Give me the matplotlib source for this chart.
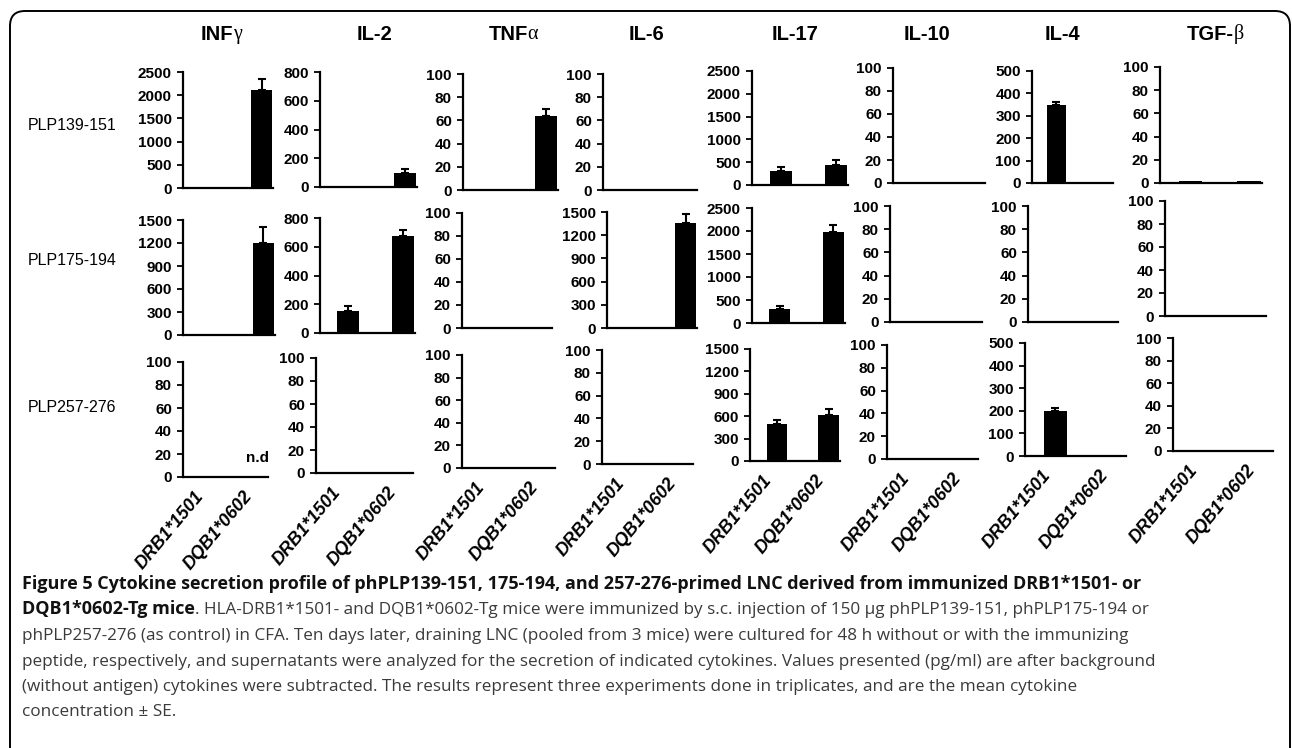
import matplotlib
matplotlib.use('Agg')
import matplotlib.pyplot as plt
import matplotlib.transforms as mtransforms
import numpy as np
from matplotlib.patches import FancyBboxPatch
from matplotlib.transforms import IdentityTransform

# chart content
cytokines = ['INFγ', 'IL-2', 'TNFα', 'IL-6', 'IL-17', 'IL-10', 'IL-4', 'TGF-β']
peptides = ['PLP139-151', 'PLP175-194', 'PLP257-276']
strains = ['DRB1*1501', 'DQB1*0602']

# mean (pg/ml) per cytokine, [DRB1*1501, DQB1*0602]
means_139 = [[0, 2120], [0, 97], [1.2, 64], [0, 0], [300, 440], [1.2, 1.2], [347, 3], [1.3, 1.3]]
err_139 = [[0, 220], [0, 30], [0, 6], [0, 0], [100, 110], [0, 0], [14, 0], [0, 0]]
means_175 = [[0, 1200], [155, 677], [1, 1], [0, 1360], [310, 1970], [0.5, 0.5], [1.2, 1.2], [1.2, 1.2]]
err_175 = [[0, 210], [30, 37], [0, 0], [0, 110], [50, 170], [0, 0], [0, 0], [0, 0]]
means_257 = [[0, 0], [1.2, 1.2], [1.2, 1.2], [1.2, 1.2], [500, 610], [0.5, 0.5], [200, 3], [1.2, 1.2]]
err_257 = [[0, 0], [0, 0], [0, 0], [0, 0], [50, 80], [0, 0], [14, 0], [0, 0]]

# y axis range / tick step of every panel
ymax_139 = [2500, 800, 100, 100, 2500, 100, 500, 100]
ystep_139 = [500, 200, 20, 20, 500, 20, 100, 20]
ymax_175 = [1500, 800, 100, 1500, 2500, 100, 100, 100]
ystep_175 = [300, 200, 20, 300, 500, 20, 20, 20]
ymax_257 = [100, 100, 100, 100, 1500, 100, 500, 100]
ystep_257 = [20, 20, 20, 20, 300, 20, 100, 20]

# (row, col, strain) not detected
not_detected = [(2, 0, 1)]

caption_bold = ('Figure 5 Cytokine secretion profile of phPLP139-151, 175-194, and 257-276-primed LNC '
                'derived from immunized DRB1*1501- or')
caption_bold2 = 'DQB1*0602-Tg mice'
caption_rest = [
    '. HLA-DRB1*1501- and DQB1*0602-Tg mice were immunized by s.c. injection of 150 µg phPLP139-151, phPLP175-194 or',
    'phPLP257-276 (as control) in CFA. Ten days later, draining LNC (pooled from 3 mice) were cultured for 48 h without or with the immunizing',
    'peptide, respectively, and supernatants were analyzed for the secretion of indicated cytokines. Values presented (pg/ml) are after background',
    '(without antigen) cytokines were subtracted. The results represent three experiments done in triplicates, and are the mean cytokine',
    'concentration ± SE.',
]

means = [means_139, means_175, means_257]
errs = [err_139, err_175, err_257]
ymaxs = [ymax_139, ymax_175, ymax_257]
ysteps = [ystep_139, ystep_175, ystep_257]

# panel boxes in pixels: left, top, right, bottom
boxes = [
    [(183, 72, 273, 188), (320, 72, 417, 187), (463, 74, 558, 190), (603, 74, 697, 190),
     (752, 71, 848, 185), (893, 68, 985, 183), (1032, 71, 1113, 183), (1160, 67, 1262, 183)],
    [(183, 220, 275, 335), (320, 218, 415, 333), (462, 213, 552, 328), (607, 212, 697, 328),
     (752, 208, 845, 323), (890, 206, 982, 322), (1028, 206, 1118, 322), (1165, 201, 1266, 316)],
    [(183, 362, 268, 477), (316, 358, 413, 473), (462, 355, 555, 468), (602, 350, 693, 464),
     (750, 349, 840, 461), (887, 345, 978, 459), (1025, 343, 1126, 456), (1173, 338, 1273, 451)],
]
title_x = [222, 375, 513, 647, 795, 927, 1062, 1215]
row_label_y = [125, 260, 408]

W, H = 1292, 748
fig = plt.figure(figsize=(W / 100, H / 100), dpi=100)

tick_font = dict(family='Liberation Sans', weight='bold', size=11)
shift_left = mtransforms.ScaledTranslation(-14 / 100, 0, fig.dpi_scale_trans)

for r in range(3):
    for c in range(8):
        l, t, rr, b = boxes[r][c]
        ax = fig.add_axes([l / W, 1 - b / H, (rr - l) / W, (b - t) / H])
        x = np.arange(2)
        m = np.array(means[r][c], dtype=float)
        e = np.array(errs[r][c], dtype=float)
        ax.bar(x, m, width=0.4, color='black', zorder=2)
        for xi, mi, ei in zip(x, m, e):
            if ei > 0:
                ax.errorbar(xi, mi, yerr=[[0], [ei]], color='black', lw=1.5,
                            capsize=3, capthick=1.5, zorder=3)
        ax.set_xlim(-0.52, 1.22)
        ax.set_ylim(0, ymaxs[r][c])
        ax.set_yticks(np.arange(0, ymaxs[r][c] + 1, ysteps[r][c]))
        for lab in ax.get_yticklabels():
            lab.set_fontproperties(tick_font)
        for s in ['top', 'right']:
            ax.spines[s].set_visible(False)
        for s in ['left', 'bottom']:
            ax.spines[s].set_linewidth(1.6)
        ax.tick_params(axis='y', length=4, width=1.3, pad=4)
        if r == 2:
            ax.set_xticks(x)
            ax.set_xticklabels(strains, rotation=50, ha='right', va='top',
                               rotation_mode='anchor', family='Liberation Sans',
                               weight='bold', style='italic', size=13)
            ax.tick_params(axis='x', length=0, pad=8)
            for lab in ax.get_xticklabels():
                lab.set_transform(lab.get_transform() + shift_left)
        else:
            ax.set_xticks([])
        ax.patch.set_visible(False)
        for (nr, nc, ns) in not_detected:
            if nr == r and nc == c:
                ax.text(ns, ymaxs[r][c] * 0.1, 'n.d', ha='center', va='bottom',
                        family='Liberation Sans', weight='bold', size=11)

for c, name in enumerate(cytokines):
    if ord(name[-1]) > 0x370:
        base = fig.text((title_x[c] - 5) / W, 1 - 34 / H, name[:-1], ha='center', va='center',
                        family='Liberation Sans', weight='bold', size=14.5)
        fig.add_artist(plt.Annotation(name[-1], xy=(1, 0), xycoords=base,
                                      xytext=(0, 3), textcoords='offset points',
                                      ha='left', va='baseline',
                                      family='Liberation Serif', size=14.5))
    else:
        fig.text(title_x[c] / W, 1 - 34 / H, name, ha='center', va='center',
                 family='Liberation Sans', weight='bold', size=14.5)

for r, name in enumerate(peptides):
    fig.text(28 / W, 1 - row_label_y[r] / H, name, ha='left', va='center',
             family='Liberation Sans', size=11.5)

# caption
cap_x = 22
baselines = [589, 614.5, 640, 665.5, 691, 716.5]
fig.text(cap_x / W, 1 - baselines[0] / H, caption_bold, ha='left', va='baseline',
         family='Open Sans', weight='bold', size=13, color='#111111')
bold2 = fig.text(cap_x / W, 1 - baselines[1] / H, caption_bold2, ha='left', va='baseline',
                 family='Open Sans', weight='bold', size=13, color='#111111')
fig.add_artist(plt.Annotation(caption_rest[0], xy=(1, 0), xycoords=bold2, va='bottom', ha='left',
                              family='Open Sans', size=12.3, color='#3a3a3a'))
for i, line in enumerate(caption_rest[1:]):
    fig.text(cap_x / W, 1 - baselines[i + 2] / H, line, ha='left', va='baseline',
             family='Open Sans', size=12.3, color='#3a3a3a')

# rounded frame around the figure
frame = FancyBboxPatch((10, -40), 1280, H - 11 + 40, boxstyle='round,pad=0,rounding_size=15',
                       transform=IdentityTransform(), fill=False, edgecolor='black', lw=1.4)
fig.add_artist(frame)

fig.savefig('out.png', dpi=100)
